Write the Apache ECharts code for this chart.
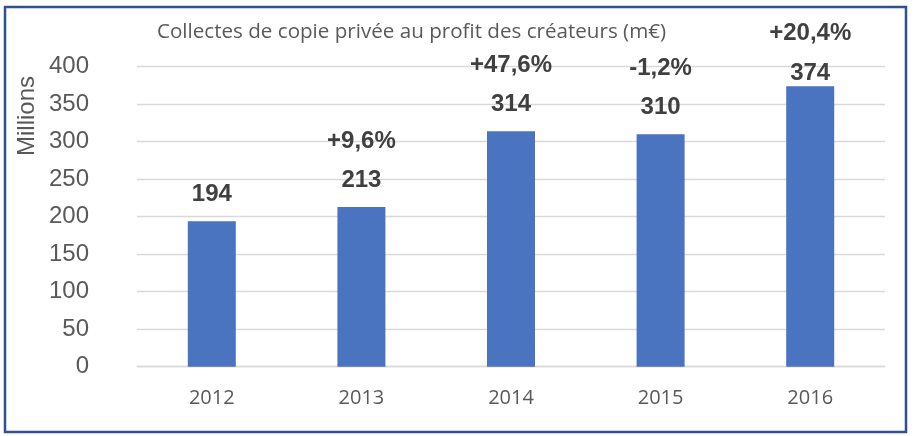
<!DOCTYPE html>
<html>
<head>
<meta charset="utf-8">
<script src="https://cdn.jsdelivr.net/npm/echarts@6/dist/echarts.min.js"></script>
<style>
html,body{margin:0;padding:0;background:#fff;}
#c{width:916px;height:436px;}
</style>
</head>
<body>
<div id="c"></div>
<script>
var categories = ['2012', '2013', '2014', '2015', '2016'];
var values = [194, 213, 314, 310, 374];
var growthLabels = ['', '+9,6%', '+47,6%', '-1,2%', '+20,4%'];
var yTicks = [0, 50, 100, 150, 200, 250, 300, 350, 400];

var chart = echarts.init(document.getElementById('c'), null, {renderer: 'canvas'});

// label lift above bar top (px): last bar's labels sit lower in the original
function valueDist(i) { return i === 4 ? 1 : 15; }
function pctDist(i) { return i === 4 ? 41 : 54; }

var mainData = values.map(function (v, i) {
  return {value: v, label: {distance: valueDist(i)}};
});
var pctData = values.map(function (v, i) {
  return {value: v, label: {distance: pctDist(i), formatter: growthLabels[i]}};
});

var option = {
  animation: false,
  backgroundColor: '#ffffff',
  title: {
    text: 'Collectes de copie privée au profit des créateurs (m€)',
    left: 152, top: 17,
    textStyle: {fontFamily: 'Open Sans', fontWeight: 'normal', fontSize: 20.6, color: '#595959'}
  },
  grid: {left: 137, right: 31, top: 66.7, bottom: 69.3, containLabel: false},
  xAxis: {
    type: 'category',
    data: categories,
    axisLine: {lineStyle: {color: '#D9D9D9', width: 1.3}},
    axisTick: {show: false},
    axisLabel: {fontFamily: 'Open Sans', fontSize: 20, color: '#595959', margin: 21.5}
  },
  yAxis: {
    type: 'value',
    min: yTicks[0], max: yTicks[yTicks.length - 1], interval: 50,
    axisLine: {show: false},
    axisTick: {show: false},
    splitLine: {lineStyle: {color: '#D9D9D9', width: 1.3}},
    axisLabel: {fontFamily: 'Liberation Sans', fontSize: 24, color: '#595959', margin: 48}
  },
  graphic: [
    {
      type: 'rect',
      shape: {x: 5, y: 7, width: 901, height: 425},
      style: {fill: 'none', stroke: '#2E5194', lineWidth: 2.5}
    },
    {
      type: 'text',
      x: 27, y: 116,
      rotation: Math.PI / 2,
      style: {
        text: 'Millions',
        fontFamily: 'Liberation Sans', fontSize: 24, fill: '#595959',
        textAlign: 'center', textVerticalAlign: 'middle'
      }
    }
  ],
  series: [
    {
      type: 'bar',
      data: mainData,
      barWidth: 48,
      itemStyle: {color: '#4A73C0'},
      label: {
        show: true, position: 'top',
        fontFamily: 'Liberation Sans', fontWeight: 'bold', fontSize: 24, color: '#404040'
      },
      z: 2
    },
    {
      type: 'bar',
      data: pctData,
      barWidth: 48,
      barGap: '-100%',
      itemStyle: {color: 'rgba(0,0,0,0)'},
      label: {
        show: true, position: 'top',
        fontFamily: 'Liberation Sans', fontWeight: 'bold', fontSize: 24, color: '#404040'
      },
      silent: true,
      z: 3
    }
  ]
};
chart.setOption(option);
</script>
</body>
</html>
